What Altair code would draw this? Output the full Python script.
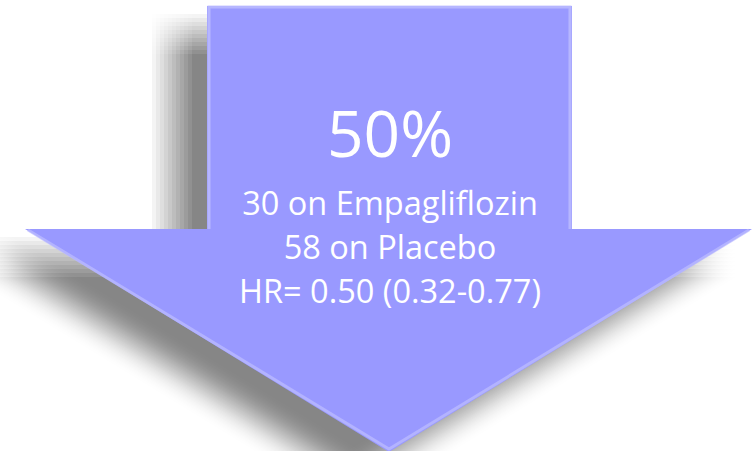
import altair as alt
import pandas as pd

W, H = 753, 451

# arrow geometry (pixels, y downward)
shaft_x = [207, 572]
shaft_y = [6, 229]
head_x = [25, 389, 752]
head_top = [229, 229, 229]
head_bottom = [229, 452, 229]

# shadow
shadow_dx, shadow_dy = -35, 28
blur_steps = [-20, -16, -12, -8, -4, 0, 4, 8, 12, 16, 20]
shadow_alpha = 0.0025

labels = ["50%", "30 on Empagliflozin", "58 on Placebo", "HR= 0.50 (0.32-0.77)"]
label_x = [390, 390, 390, 390]
label_y = [157, 215, 259, 303]
label_size = [64, 32.5, 32.5, 32.5]

arrow_color = "#9999ff"
bevel_color = "#bdbdff"

xs = alt.Scale(domain=[0, W], nice=False, zero=False)
ys = alt.Scale(domain=[0, H], nice=False, zero=False, reverse=True)

# shadow data
srect, shead = [], []
k = 0
for ox in blur_steps:
    for oy in blur_steps:
        srect.append(dict(x=shaft_x[0] + shadow_dx + ox, x2=shaft_x[1] + shadow_dx + ox,
                          y=shaft_y[0] + shadow_dy + oy, y2=shaft_y[1] + shadow_dy + oy))
        for hx, ht, hb in zip(head_x, head_top, head_bottom):
            shead.append(dict(g=k, x=hx + shadow_dx + ox, y=ht + shadow_dy + oy,
                              y2=hb + shadow_dy + oy))
        k += 1

sh_rect = alt.Chart(pd.DataFrame(srect)).mark_rect(color="black", opacity=shadow_alpha).encode(
    x=alt.X("x:Q", scale=xs, axis=None), x2="x2:Q",
    y=alt.Y("y:Q", scale=ys, axis=None), y2="y2:Q")
sh_head = alt.Chart(pd.DataFrame(shead)).mark_area(color="black", opacity=shadow_alpha).encode(
    x=alt.X("x:Q", scale=xs, axis=None),
    y=alt.Y("y:Q", scale=ys, axis=None), y2="y2:Q", detail="g:N")

shaft = alt.Chart(pd.DataFrame([dict(x=shaft_x[0], x2=shaft_x[1], y=shaft_y[0], y2=shaft_y[1] + 1)])).mark_rect(
    color=arrow_color).encode(
    x=alt.X("x:Q", scale=xs, axis=None), x2="x2:Q",
    y=alt.Y("y:Q", scale=ys, axis=None), y2="y2:Q")

head = alt.Chart(pd.DataFrame(dict(x=head_x, y=head_top, y2=head_bottom))).mark_area(
    color=arrow_color).encode(
    x=alt.X("x:Q", scale=xs, axis=None),
    y=alt.Y("y:Q", scale=ys, axis=None), y2="y2:Q")

# bevel highlights along the shaft edges and the head's lower edges
bevel_shaft = alt.Chart(pd.DataFrame(dict(
    o=[0, 1, 2, 3],
    x=[shaft_x[0] + 2, shaft_x[0] + 2, shaft_x[1] - 2, shaft_x[1] - 2],
    y=[shaft_y[1], shaft_y[0] + 1, shaft_y[0] + 1, shaft_y[1]]))).mark_line(
    color=bevel_color, strokeWidth=3, opacity=0.8).encode(
    x=alt.X("x:Q", scale=xs, axis=None), y=alt.Y("y:Q", scale=ys, axis=None), order="o:Q")

bevel_head = alt.Chart(pd.DataFrame(dict(
    o=[0, 1, 2], x=[head_x[0] + 3, head_x[1], head_x[2] - 3],
    y=[head_top[0] + 1, head_bottom[1] - 3, head_top[2] + 1]))).mark_line(
    color=bevel_color, strokeWidth=3, opacity=0.7).encode(
    x=alt.X("x:Q", scale=xs, axis=None), y=alt.Y("y:Q", scale=ys, axis=None), order="o:Q")

tdf = pd.DataFrame(dict(t=labels, x=label_x, y=label_y, s=label_size))
text = alt.Chart(tdf).mark_text(color="white", font="Open Sans", align="center",
                                baseline="alphabetic").encode(
    x=alt.X("x:Q", scale=xs, axis=None), y=alt.Y("y:Q", scale=ys, axis=None),
    text="t:N", size=alt.Size("s:Q", scale=None, legend=None))

chart = alt.layer(sh_rect, sh_head, shaft, head, bevel_shaft, bevel_head, text).properties(
    width=W, height=H, padding=0, autosize=alt.AutoSizeParams(type="none"),
    background="white").configure_view(stroke=None)

chart.save("out.html", embed_options={"renderer": "svg", "actions": False})
